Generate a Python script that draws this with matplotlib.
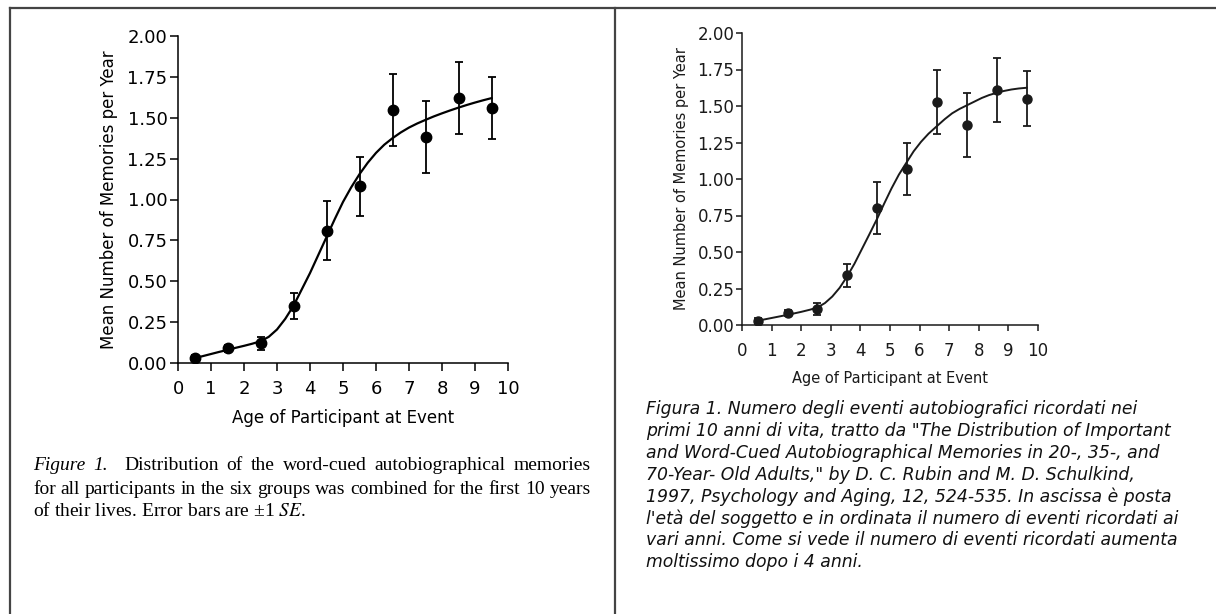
import matplotlib
matplotlib.use("Agg")
from matplotlib import pyplot as plt
import numpy as np

plt.rcParams["mathtext.fontset"] = "stix"

W, H = 1216, 614

ages = [0.5, 1.5, 2.5, 3.5, 4.5, 5.5, 6.5, 7.5, 8.5, 9.5]
means = [0.03, 0.09, 0.12, 0.35, 0.81, 1.08, 1.55, 1.38, 1.62, 1.56]
errs = [0.02, 0.02, 0.04, 0.08, 0.18, 0.18, 0.22, 0.22, 0.22, 0.19]

fitX = [0.5, 0.75, 1.0, 1.25, 1.5, 1.75, 2.0, 2.25, 2.5, 2.75, 3.0, 3.25, 3.5, 3.75,
        4.0, 4.25, 4.5, 4.75, 5.0, 5.25, 5.5, 5.75, 6.0, 6.25, 6.5, 6.75, 7.0, 7.25,
        7.5, 7.75, 8.0, 8.25, 8.5, 8.75, 9.0, 9.25, 9.5]
fitY = [0.03, 0.042, 0.055, 0.068, 0.08, 0.093, 0.105, 0.118, 0.133, 0.16, 0.205, 0.27,
        0.35, 0.45, 0.55, 0.66, 0.77, 0.88, 0.985, 1.075, 1.155, 1.225, 1.285, 1.335,
        1.375, 1.41, 1.44, 1.465, 1.487, 1.508, 1.527, 1.545, 1.562, 1.578, 1.593,
        1.607, 1.62]

agesR = [0.55, 1.55, 2.55, 3.56, 4.57, 5.58, 6.6, 7.6, 8.6, 9.62]
meansR = [0.03, 0.08, 0.11, 0.34, 0.80, 1.07, 1.53, 1.37, 1.61, 1.55]
errsR = [0.02, 0.02, 0.04, 0.08, 0.18, 0.18, 0.22, 0.22, 0.22, 0.19]

fitXR = [0.55, 1.0, 1.55, 2.0, 2.3, 2.55, 2.8, 3.05, 3.3, 3.56, 3.8, 4.05, 4.3, 4.57,
         4.8, 5.05, 5.3, 5.58, 5.8, 6.05, 6.3, 6.6, 6.85, 7.1, 7.35, 7.6, 7.85, 8.1,
         8.35, 8.6, 8.85, 9.1, 9.35, 9.62]
fitYR = [0.03, 0.048, 0.07, 0.09, 0.105, 0.12, 0.15, 0.195, 0.255, 0.335, 0.42, 0.52,
         0.62, 0.73, 0.83, 0.935, 1.03, 1.12, 1.19, 1.255, 1.31, 1.365, 1.41, 1.45,
         1.48, 1.505, 1.53, 1.555, 1.575, 1.59, 1.603, 1.613, 1.62, 1.625]

yTicks = [0.0, 0.25, 0.5, 0.75, 1.0, 1.25, 1.5, 1.75, 2.0]
xTicks = list(range(0, 11))
xLabel = "Age of Participant at Event"
yLabel = "Mean Number of Memories per Year"

capLeft = [
    [("Figure", "italic"), ("1.", "italic"), ("  Distribution", "normal"), ("of", "normal"),
     ("the", "normal"), ("word-cued", "normal"), ("autobiographical", "normal"), ("memories", "normal")],
    [(w, "normal") for w in "for all participants in the six groups was combined for the first 10 years".split()],
]
capLeftLast = "of their lives. Error bars are \u00b11 $\\mathit{SE}$."

capRight = [
    "Figura 1. Numero degli eventi autobiografici ricordati nei",
    "primi 10 anni di vita, tratto da \"The Distribution of Important",
    "and Word-Cued Autobiographical Memories in 20-, 35-, and",
    "70-Year- Old Adults,\" by D. C. Rubin and M. D. Schulkind,",
    "1997, Psychology and Aging, 12, 524-535. In ascissa \u00e8 posta",
    "l'et\u00e0 del soggetto e in ordinata il numero di eventi ricordati ai",
    "vari anni. Come si vede il numero di eventi ricordati aumenta",
    "moltissimo dopo i 4 anni.",
]


def box(l, t, r, b):
    # pixel box -> figure fraction [left, bottom, width, height]
    return [l / W, 1 - b / H, (r - l) / W, (b - t) / H]


def drawChart(ax, x, y, e, fx, fy, col, ms, fs, lfs, lw, xtick, ytick, xlp, ylp):
    ax.plot(fx, fy, color=col, lw=lw, zorder=2)
    ax.errorbar(x, y, yerr=e, fmt="o", color=col, ms=ms, capsize=3, elinewidth=1.3,
                capthick=1.3, zorder=3)
    ax.set_xlim(0, 10)
    ax.set_ylim(0, 2)
    ax.set_xticks(xTicks)
    ax.set_yticks(yTicks)
    ax.set_yticklabels(["%.2f" % v for v in yTicks])
    for s in ["top", "right"]:
        ax.spines[s].set_visible(False)
    for s in ["left", "bottom"]:
        ax.spines[s].set_linewidth(1.1)
        ax.spines[s].set_color(col)
    ax.tick_params(direction="out", width=1.1, colors=col, labelsize=fs)
    ax.tick_params(axis="x", length=xtick[0], pad=xtick[1])
    ax.tick_params(axis="y", length=ytick[0], pad=ytick[1])
    ax.set_xlabel(xLabel, fontsize=lfs, color=col, labelpad=xlp)
    ax.set_ylabel(yLabel, fontsize=lfs, color=col, labelpad=ylp)
    ax.patch.set_visible(False)


fig = plt.figure(figsize=(W / 100, H / 100), dpi=100)
fig.patch.set_facecolor("white")

# page frame
frame = fig.add_axes([0, 0, 1, 1])
frame.set_xlim(0, W)
frame.set_ylim(H, 0)
frame.axis("off")
frame.plot([10, W], [8, 8], color="#444444", lw=1.6)
frame.plot([10, 10], [8, H], color="#444444", lw=1.6)
frame.plot([614.5, 614.5], [8, H], color="#444444", lw=1.6)

axL = fig.add_axes(box(178, 36, 508, 363))
drawChart(axL, ages, means, errs, fitX, fitY, "black", 7.5, 13, 12, 1.6,
          (6, 6), (6, 1.5), 8, 7)

axR = fig.add_axes(box(742, 33, 1038, 325))
drawChart(axR, agesR, meansR, errsR, fitXR, fitYR, "#1a1a1a", 6.5, 12, 10.5, 1.4,
          (4, 8), (4, 1.5), 8, 6)

# ---- captions
fig.canvas.draw()
renderer = fig.canvas.get_renderer()

# size the serif caption so its second line fills the column width
probe = fig.text(0, 0, " ".join(w for w, s in capLeft[1]), family="Liberation Serif", fontsize=10)
serifSize = 10 * 556 / probe.get_window_extent(renderer).width
probe.remove()


def justify(words, x0, x1, yc):
    texts = [fig.text(x0 / W, 1 - yc / H, w.strip(), fontstyle=s, family="Liberation Serif",
                      fontsize=serifSize, va="center", ha="left") for w, s in words]
    widths = [t.get_window_extent(renderer).width for t in texts]
    weights = [2 if w.startswith("  ") else 1 for w, s in words[1:]]
    gap = ((x1 - x0) - sum(widths)) / sum(weights)
    pos = x0
    for i, (t, wd) in enumerate(zip(texts, widths)):
        t.set_x(pos / W)
        if i < len(weights):
            pos += wd + gap * weights[i]


justify(capLeft[0], 33, 591, 466)
justify(capLeft[1], 33, 591, 489)
fig.text(33 / W, 1 - 511 / H, capLeftLast, family="Liberation Serif", fontsize=serifSize,
         va="center", ha="left")

for i, line in enumerate(capRight):
    fig.text(646 / W, 1 - (409 + i * 21.9) / H, line, family="DejaVu Sans", style="italic",
             fontsize=12.4, va="center", ha="left", color="#111111")

fig.savefig("out.png", dpi=100, facecolor="white")
